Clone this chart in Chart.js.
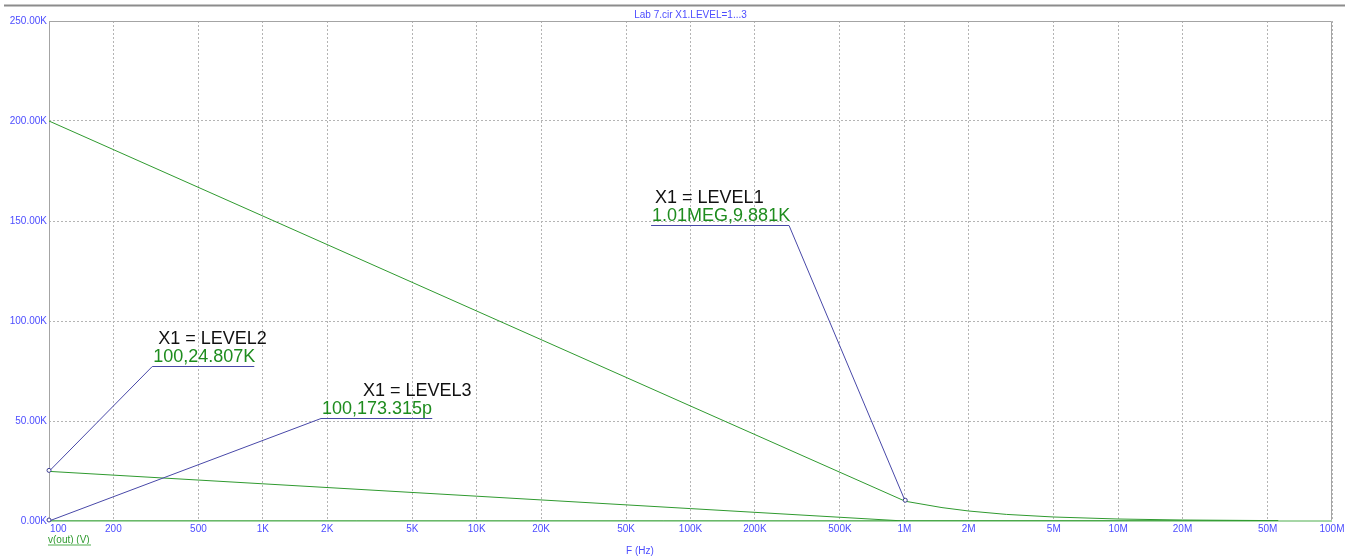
<!DOCTYPE html>
<html>
<head>
<meta charset="utf-8">
<script src="https://cdn.jsdelivr.net/npm/chart.js@4/dist/chart.umd.min.js"></script>
<style>
  html, body { margin: 0; padding: 0; background: #fff; }
  #wrap { width: 1356px; height: 558px; }
</style>
</head>
<body>
<div id="wrap"><canvas id="plot" width="1356" height="558"></canvas></div>
<script>
// frequenz-achse (log)
const freqTicks  = [100, 200, 500, 1e3, 2e3, 5e3, 1e4, 2e4, 5e4, 1e5, 2e5, 5e5, 1e6, 2e6, 5e6, 1e7, 2e7, 5e7, 1e8];
const freqLabels = ['100', '200', '500', '1K', '2K', '5K', '10K', '20K', '50K', '100K', '200K', '500K', '1M', '2M', '5M', '10M', '20M', '50M', '100M'];
// spannungs-achse
const voltTicks  = [0, 50000, 100000, 150000, 200000, 250000];
const voltLabels = ['0.00K', '50.00K', '100.00K', '150.00K', '200.00K', '250.00K'];

// v(out) fuer X1.LEVEL = 1..3
const level1F = [100, 1e3, 1e4, 1e5, 1.01e6, 1.5e6, 2e6, 3e6, 5e6, 1e7, 2e7, 5.6e7];
const level1V = [200000, 152500, 105000, 57500, 9881, 6700, 5000, 3300, 2000, 1000, 500, 180];
const level2F = [100, 1e3, 1e4, 1e5, 1e6, 5.6e7];
const level2V = [24807, 18600, 12400, 6200, 0, 0];
const level3F = [100, 5.6e7];
const level3V = [173.315e-12, 0];

// marker-beschriftungen
const noteTitles = ['X1 = LEVEL1', 'X1 = LEVEL2', 'X1 = LEVEL3'];
const noteValues = ['1.01MEG,9.881K', '100,24.807K', '100,173.315p'];
const notePointF = [1.01e6, 100, 100];
const notePointV = [9881, 24807, 173.315e-12];
// unterstrich: linkes/rechtes ende (Hz) und hoehe (V)
const noteLineF0 = [65400, 304, 1871];
const noteLineF1 = [289000, 912, 6200];
const noteLineV  = [148000, 77350, 51350];

const pts = (f, v) => f.map((x, i) => ({ x, y: v[i] }));

const noteStyle = [
  { titleDx: 4, joinRight: true },
  { titleDx: 6, joinRight: false },
  { titleDx: 42, joinRight: false }
];

const BLUE = '#4d4dff';
const GREEN = '#2f9a2f';
const FONT = '"Liberation Sans", Arial, sans-serif';

const sketch = {
  id: 'sketch',
  beforeDatasetsDraw(chart) {
    const { ctx, chartArea: a } = chart;
    ctx.save();
    // rahmen
    ctx.strokeStyle = '#a4a4a4';
    ctx.lineWidth = 1;
    ctx.beginPath();
    ctx.moveTo(a.left + 0.5, a.bottom);
    ctx.lineTo(a.left + 0.5, a.top + 0.5);
    ctx.lineTo(a.right - 0.5, a.top + 0.5);
    ctx.lineTo(a.right - 0.5, a.bottom);
    ctx.stroke();
    ctx.strokeStyle = '#a6d6a6';
    ctx.lineWidth = 2;
    ctx.beginPath();
    ctx.moveTo(a.left, a.bottom);
    ctx.lineTo(a.right, a.bottom);
    ctx.stroke();
    ctx.restore();
  },
  afterDatasetsDraw(chart) {
    const { ctx, chartArea: a } = chart;
    const xs = chart.scales.x, ys = chart.scales.y;
    ctx.save();

    // obere trennlinie
    ctx.strokeStyle = '#8c8c8c';
    ctx.lineWidth = 2;
    ctx.beginPath();
    ctx.moveTo(4, 5.5);
    ctx.lineTo(1345, 5.5);
    ctx.stroke();

    // titel
    ctx.font = '10px ' + FONT;
    ctx.fillStyle = BLUE;
    ctx.textAlign = 'center';
    ctx.textBaseline = 'middle';
    ctx.fillText('Lab 7.cir X1.LEVEL=1...3', (a.left + a.right) / 2, 15.5);

    // x-beschriftung
    freqTicks.forEach((f, i) => {
      const px = xs.getPixelForValue(f);
      ctx.textAlign = i === 0 ? 'left' : 'center';
      ctx.fillText(freqLabels[i], i === 0 ? px + 1 : px, a.bottom + 8);
    });
    ctx.textAlign = 'center';
    ctx.fillText('F (Hz)', 640, a.bottom + 30);

    // legende
    ctx.textAlign = 'left';
    ctx.fillStyle = GREEN;
    ctx.fillText('v(out) (V)', a.left - 1, a.bottom + 19);
    ctx.strokeStyle = '#a6d6a6';
    ctx.lineWidth = 2;
    ctx.beginPath();
    ctx.moveTo(a.left - 1, a.bottom + 24);
    ctx.lineTo(a.left + 42, a.bottom + 24);
    ctx.stroke();

    // marker
    noteTitles.forEach((t, i) => {
      const px = xs.getPixelForValue(notePointF[i]);
      const py = ys.getPixelForValue(notePointV[i]);
      const x0 = xs.getPixelForValue(noteLineF0[i]);
      const x1 = xs.getPixelForValue(noteLineF1[i]);
      const ly = Math.round(ys.getPixelForValue(noteLineV[i])) + 0.5;
      const jx = noteStyle[i].joinRight ? x1 : x0;
      ctx.strokeStyle = '#4848a8';
      ctx.lineWidth = 1;
      ctx.beginPath();
      ctx.moveTo(x0, ly);
      ctx.lineTo(x1, ly);
      ctx.moveTo(jx, ly);
      ctx.lineTo(px, py);
      ctx.stroke();
      ctx.fillStyle = '#fff';
      ctx.strokeStyle = '#3c3c90';
      ctx.beginPath();
      ctx.arc(px, py - 1, 2, 0, Math.PI * 2);
      ctx.fill();
      ctx.stroke();

      ctx.font = '18px ' + FONT;
      ctx.textAlign = 'left';
      ctx.textBaseline = 'alphabetic';
      ctx.fillStyle = '#111';
      ctx.fillText(t, x0 + noteStyle[i].titleDx, ly - 23);
      ctx.fillStyle = '#1e8c1e';
      ctx.fillText(noteValues[i], x0 + 1, ly - 5);
    });
    ctx.restore();
  }
};

const lineSet = (label, f, v) => ({
  label,
  data: pts(f, v),
  borderColor: GREEN,
  borderWidth: 1,
  pointRadius: 0,
  tension: 0,
  fill: false
});

new Chart(document.getElementById('plot'), {
  type: 'line',
  data: {
    datasets: [
      lineSet('LEVEL1', level1F, level1V),
      lineSet('LEVEL2', level2F, level2V),
      lineSet('LEVEL3', level3F, level3V)
    ]
  },
  options: {
    responsive: false,
    animation: false,
    layout: { padding: { top: 21, right: 24, left: 0, bottom: 0 } },
    plugins: { legend: { display: false }, tooltip: { enabled: false }, title: { display: false } },
    scales: {
      x: {
        type: 'logarithmic',
        min: 100,
        max: 1e8,
        afterBuildTicks: s => { s.ticks = freqTicks.map(value => ({ value })); },
        afterFit: s => { s.height = 37; },
        ticks: { display: false },
        grid: { color: '#b4b4b4', drawTicks: false },
        border: { display: false, dash: [2, 2] }
      },
      y: {
        type: 'linear',
        min: 0,
        max: 250000,
        afterBuildTicks: s => { s.ticks = voltTicks.map(value => ({ value })); },
        afterFit: s => { s.width = 49; },
        ticks: {
          callback: (v, i) => voltLabels[i],
          color: BLUE,
          font: { family: FONT, size: 10 },
          padding: 2
        },
        grid: { color: '#b4b4b4', drawTicks: false },
        border: { display: false, dash: [2, 2] }
      }
    }
  },
  plugins: [sketch]
});
</script>
</body>
</html>
